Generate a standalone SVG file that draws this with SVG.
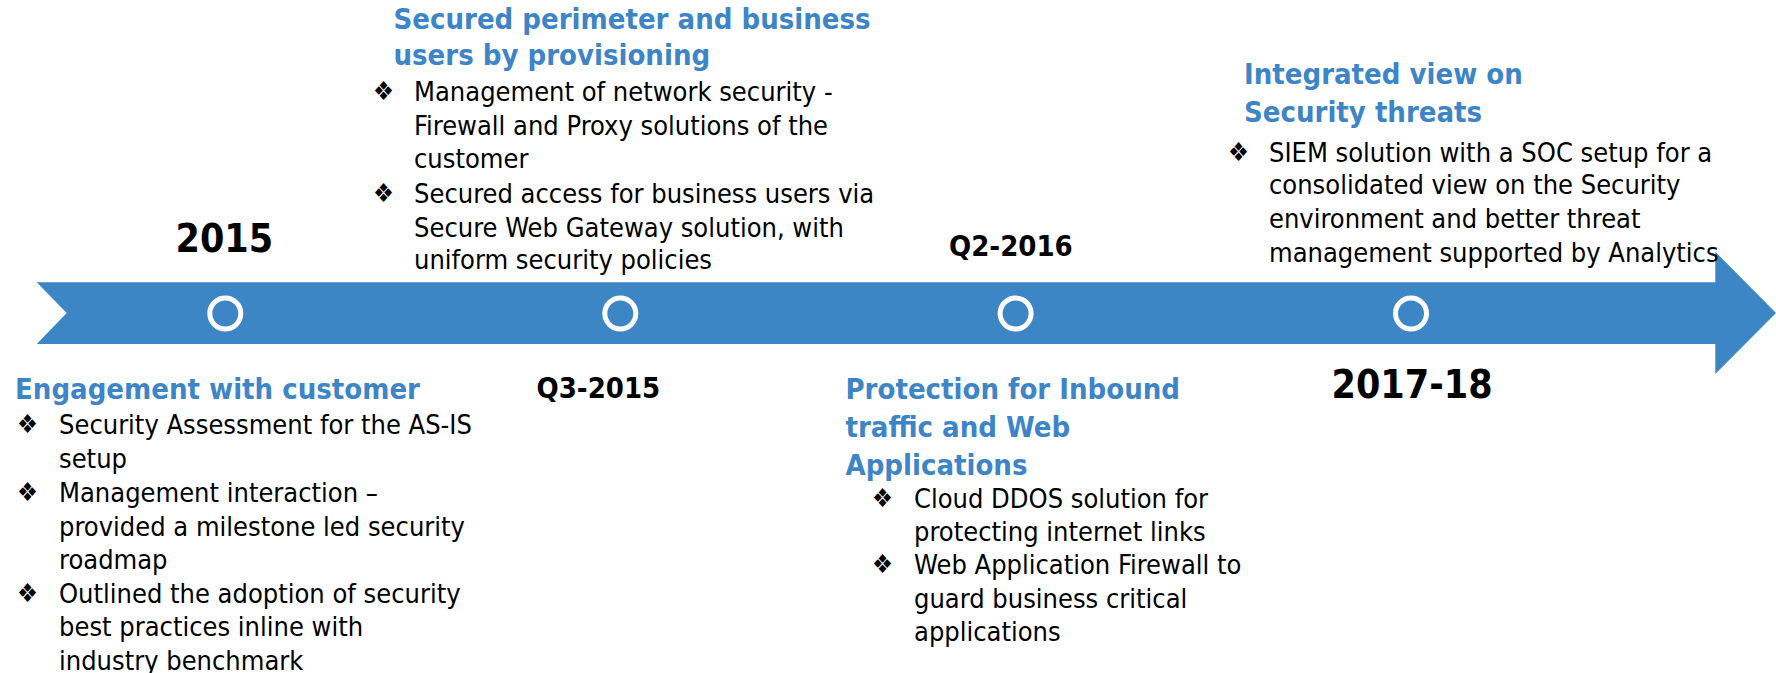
<svg xmlns="http://www.w3.org/2000/svg" width="1776" height="673" viewBox="0 0 1776 673">
<style>
  text { font-family: "DejaVu Sans Condensed", "DejaVu Sans", sans-serif; font-stretch: condensed; }
  .title { font-size: 29px; font-weight: bold; fill: #3D85C6; }
  .body { font-size: 27px; fill: #000000; }
  .bul { font-size: 26px; fill: #000000; }
  .year { font-size: 39px; font-weight: bold; fill: #000000; }
  .q { font-size: 29px; font-weight: bold; fill: #000000; }
  .band { fill: #3D86C6; }
  .dot { fill: none; stroke: #FFFFFF; stroke-width: 5; }
</style>
<rect width="1776" height="673" fill="#FFFFFF"/>
<g id="timeline">
  <polygon class="band" points="36.7,282.3 1715.3,282.3 1715.3,251.7 1776,313 1715.3,374 1715.3,344 36.7,344 66.7,313"/>
  <circle class="dot" cx="225.3" cy="313.5" r="15.5"/>
  <circle class="dot" cx="620.3" cy="313.5" r="15.5"/>
  <circle class="dot" cx="1015.6" cy="313.5" r="15.5"/>
  <circle class="dot" cx="1411" cy="313.5" r="15.5"/>
</g>
<g id="connectors"></g>
<g id="label-2015"><text class="year" x="175.5" y="251.7">2015</text></g>
<g id="label-q3-2015"><text class="q" x="536.5" y="398.3">Q3-2015</text></g>
<g id="label-q2-2016"><text class="q" x="949" y="255.7">Q2-2016</text></g>
<g id="label-2017-18"><text class="year" x="1331.5" y="398.3">2017-18</text></g>
<g id="engagement">
  <text class="title" x="15" y="399.3">Engagement with customer</text>
  <text class="bul" x="17" y="433">❖</text>
  <text class="body" x="59" y="434">Security Assessment for the AS-IS</text>
  <text class="body" x="59" y="467.5">setup</text>
  <text class="bul" x="17" y="500.5">❖</text>
  <text class="body" x="59" y="501.5">Management interaction –</text>
  <text class="body" x="59" y="535.5">provided a milestone led security</text>
  <text class="body" x="59" y="569">roadmap</text>
  <text class="bul" x="17" y="601.5">❖</text>
  <text class="body" x="59" y="602.5">Outlined the adoption of security</text>
  <text class="body" x="59" y="636">best practices inline with</text>
  <text class="body" x="59" y="669.5">industry benchmark</text>
</g>
<g id="secured">
  <text class="title" x="393.5" y="29.3">Secured perimeter and business</text>
  <text class="title" x="393.5" y="65">users by provisioning</text>
  <text class="bul" x="373" y="100">❖</text>
  <text class="body" x="414" y="101">Management of network security -</text>
  <text class="body" x="414" y="135">Firewall and Proxy solutions of the</text>
  <text class="body" x="414" y="168.3">customer</text>
  <text class="bul" x="373" y="201.7">❖</text>
  <text class="body" x="414" y="202.7">Secured access for business users via</text>
  <text class="body" x="414" y="236.7">Secure Web Gateway solution, with</text>
  <text class="body" x="414" y="269.3">uniform security policies</text>
</g>
<g id="protection">
  <text class="title" x="845.5" y="399.3">Protection for Inbound</text>
  <text class="title" x="845.5" y="437">traffic and Web</text>
  <text class="title" x="845.5" y="474.5">Applications</text>
  <text class="bul" x="872" y="506.7">❖</text>
  <text class="body" x="914" y="507.7">Cloud DDOS solution for</text>
  <text class="body" x="914" y="541">protecting internet links</text>
  <text class="bul" x="872" y="573.3">❖</text>
  <text class="body" x="914" y="574.3">Web Application Firewall to</text>
  <text class="body" x="914" y="607.7">guard business critical</text>
  <text class="body" x="914" y="641">applications</text>
</g>
<g id="integrated">
  <text class="title" x="1244" y="84.3">Integrated view on</text>
  <text class="title" x="1244" y="121.7">Security threats</text>
  <text class="bul" x="1228" y="160.7">❖</text>
  <text class="body" x="1269" y="161.7">SIEM solution with a SOC setup for a</text>
  <text class="body" x="1269" y="194">consolidated view on the Security</text>
  <text class="body" x="1269" y="228.3">environment and better threat</text>
  <text class="body" x="1269" y="261.7">management supported by Analytics</text>
</g>
</svg>
